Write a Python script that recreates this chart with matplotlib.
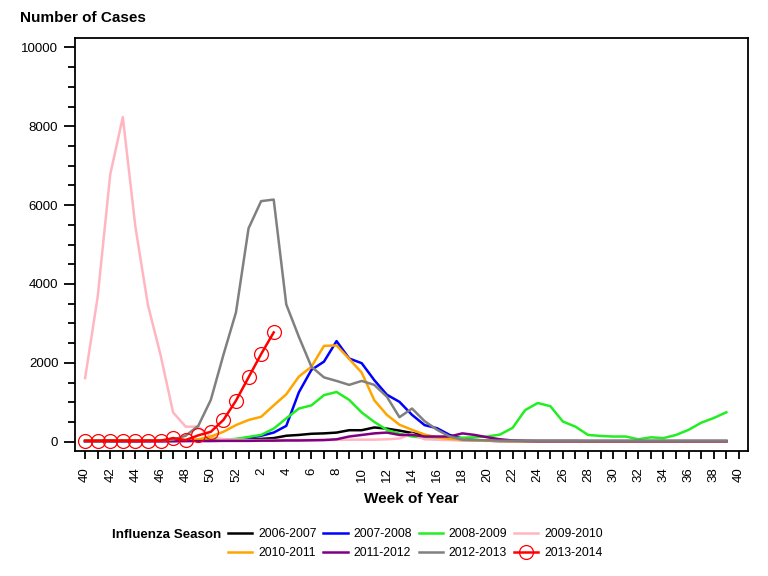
import matplotlib

matplotlib.use("Agg")
import matplotlib.pyplot as plt
from matplotlib.ticker import FixedLocator, MultipleLocator

plt.rcParams["font.family"] = ["Liberation Sans", "DejaVu Sans"]

# weeks of the flu season, week 40 through week 39 of the next year
weeks = list(range(40, 53)) + list(range(1, 40))
tick_weeks = weeks + [40]

seasons = ["2006-2007", "2007-2008", "2008-2009", "2009-2010",
           "2010-2011", "2011-2012", "2012-2013", "2013-2014"]
colors = ["black", "#0000ff", "#22ee22", "#ffb6c1",
          "#ffa500", "#800080", "#808080", "#ff0000"]

cases_0607 = [20, 20, 25, 25, 25, 30, 30, 35, 35, 40, 40, 45, 50,
              60, 70, 90, 150, 170, 200, 210, 230, 290, 290, 360, 330, 280, 220, 150, 100, 60,
              40, 30, 25, 20, 20, 15, 15, 15, 15, 15, 10, 10, 10, 10, 10, 10, 10, 10, 10, 10, 10, 10]
cases_0708 = [10, 10, 10, 10, 10, 15, 15, 20, 20, 25, 30, 40, 60,
              100, 150, 230, 400, 1250, 1820, 2030, 2550, 2110, 1990, 1560, 1190, 1010, 680, 420, 340, 170,
              80, 40, 25, 15, 10, 10, 10, 10, 10, 10, 10, 10, 10, 10, 10, 10, 10, 10, 10, 10, 10, 10]
cases_0809 = [20, 20, 20, 25, 25, 25, 30, 30, 30, 35, 40, 50, 70,
              120, 170, 330, 590, 840, 920, 1180, 1260, 1060, 740, 500, 300, 200,
              130, 100, 90, 90, 100, 110, 130, 180, 350, 800, 980, 900, 510,
              380, 170, 145, 130, 130, 60, 110, 90, 170, 300, 480, 600, 745]
cases_0910 = [1610, 3670, 6780, 8230, 5450, 3460, 2200, 740, 380, 380, 120, 60, 50,
              40, 40, 40, 40, 40, 40, 45, 45, 50, 50, 50, 60, 80, 200, 60, 50, 40, 30, 25, 20,
              15, 15, 15, 15, 15, 15, 15, 15, 15, 15, 15, 15, 15, 15, 15, 15, 15, 15, 15]
cases_1011 = [10, 10, 10, 15, 15, 20, 25, 30, 40, 60, 130, 250, 420,
              550, 630, 920, 1200, 1650, 1900, 2430, 2440, 2100, 1750, 1050, 680, 430, 300, 180, 110, 70,
              50, 35, 25, 15, 10, 10, 10, 10, 10, 10, 10, 10, 10, 10, 10, 10, 10, 10, 10, 10, 10, 10]
cases_1112 = [10, 10, 10, 10, 10, 10, 10, 10, 15, 15, 15, 20, 20,
              20, 25, 25, 30, 30, 35, 40, 60, 130, 170, 210, 230, 170, 170, 130, 130, 130,
              210, 170, 110, 60, 30, 20, 15, 15, 15, 15, 15, 15, 15, 15, 15, 15, 15, 15, 15, 15, 15, 15]
cases_1213 = [10, 10, 15, 15, 20, 25, 30, 50, 150, 400, 1060, 2200, 3280,
              5410, 6100, 6140, 3480, 2660, 1900, 1630, 1540, 1440, 1540, 1440, 1140, 620, 840, 520, 300, 130,
              50, 40, 30, 25, 25, 25, 25, 25, 25, 25, 25, 25, 25, 25, 25, 25, 25, 25, 25, 25, 25, 25]
cases_1314 = [25, 25, 25, 25, 25, 25, 25, 90, 40, 160, 250, 550, 1040, 1630, 2220, 2770]

series = [cases_0607, cases_0708, cases_0809, cases_0910,
          cases_1011, cases_1112, cases_1213, cases_1314]

fig = plt.figure(figsize=(7.68, 5.76), dpi=100)
ax = fig.add_axes([0.0977, 0.2175, 0.8759, 0.716])

handles = []
for name, color, vals in zip(seasons, colors, series):
    x = list(range(len(vals)))
    if name == "2013-2014":
        (h,) = ax.plot(x, vals, color=color, lw=1.8, marker="o", ms=10,
                       mfc="none", mec=color, mew=0.9, label=name, zorder=5)
    else:
        (h,) = ax.plot(x, vals, color=color, lw=1.8, label=name)
    handles.append(h)

ax.set_xlim(-0.8, 52.7)
ax.set_ylim(-230, 10230)

ax.xaxis.set_major_locator(FixedLocator(range(len(tick_weeks))))
ax.set_xticklabels([str(w) if i % 2 == 0 else "" for i, w in enumerate(tick_weeks)],
                   rotation=90, fontsize=9.5)
ax.yaxis.set_major_locator(MultipleLocator(2000))
ax.yaxis.set_minor_locator(MultipleLocator(500))
ax.tick_params(axis="x", direction="out", length=6, width=1.3, pad=6)
ax.tick_params(axis="y", which="major", direction="out", length=8, width=1.3,
               pad=4, labelsize=9.5)
ax.tick_params(axis="y", which="minor", direction="out", length=5, width=1.3)
for sp in ax.spines.values():
    sp.set_linewidth(1.3)

fig.text(20 / 768, 1 - 18 / 576, "Number of Cases", fontsize=11,
         fontweight="bold", ha="left", va="center")
fig.text(411 / 768, 1 - 499 / 576, "Week of Year", fontsize=11,
         fontweight="bold", ha="center", va="center")
fig.text(112 / 768, 1 - 534.5 / 576, "Influenza Season", fontsize=9.6,
         fontweight="bold", ha="left", va="center")

# legend fills column by column, so reorder to get two rows of four
order = [0, 4, 1, 5, 2, 6, 3, 7]
fig.legend([handles[i] for i in order], [seasons[i] for i in order],
           ncol=4, loc="center left", bbox_to_anchor=(228 / 768, 1 - 543.5 / 576),
           frameon=False, fontsize=8.7, handlelength=2.0, handletextpad=0.5,
           columnspacing=0.55, labelspacing=0.55, borderpad=0, borderaxespad=0)

fig.savefig("out.png", dpi=100)
